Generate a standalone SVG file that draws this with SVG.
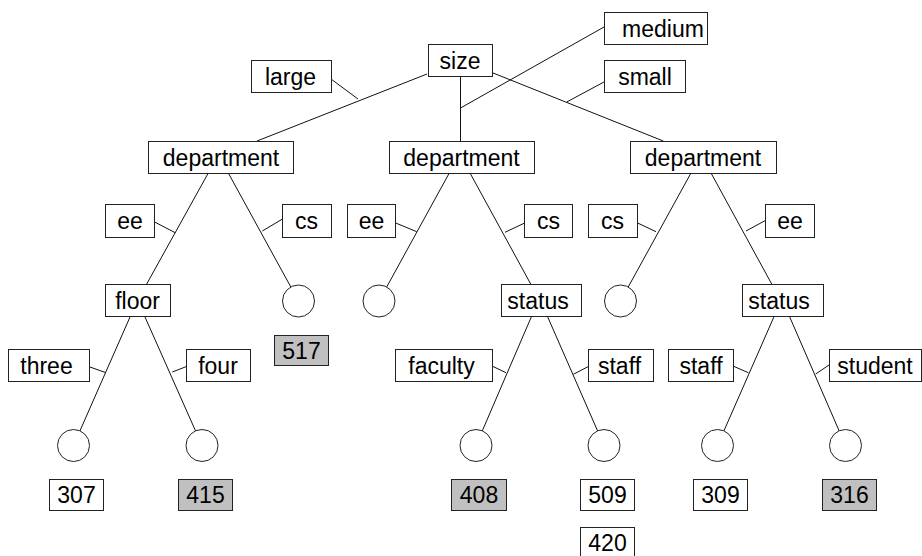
<svg xmlns="http://www.w3.org/2000/svg" width="922" height="556" viewBox="0 0 922 556">
<style>
rect{fill:#fff;stroke:#222;stroke-width:1}
rect.g{fill:#c0c0c0}
circle{fill:#fff;stroke:#222;stroke-width:1}
line{stroke:#111;stroke-width:1}
text{font-family:"Liberation Sans",Arial,sans-serif;font-size:23px;fill:#000;text-anchor:middle}
</style>
<rect x="0" y="0" width="922" height="556" style="fill:#fff;stroke:none"/>
<g id="connectors">
<line x1="427" y1="74" x2="257" y2="141"/>
<line x1="460.5" y1="76" x2="460.5" y2="141"/>
<line x1="492.3" y1="72.7" x2="663.3" y2="141"/>
<line x1="208.3" y1="173" x2="146.7" y2="284"/>
<line x1="228.3" y1="173" x2="298.5" y2="301"/>
<line x1="449.3" y1="173" x2="379" y2="301"/>
<line x1="470" y1="173" x2="530.7" y2="284"/>
<line x1="691" y1="173" x2="620.5" y2="301"/>
<line x1="711" y1="173" x2="771.7" y2="284"/>
<line x1="130" y1="317" x2="73.5" y2="445.5"/>
<line x1="145" y1="317" x2="202" y2="445.5"/>
<line x1="531.7" y1="316" x2="476" y2="445.5"/>
<line x1="547.3" y1="316" x2="604" y2="445.5"/>
<line x1="774.3" y1="316" x2="717.5" y2="445.5"/>
<line x1="789.3" y1="316" x2="845.5" y2="445.5"/>
<line x1="331" y1="79" x2="358" y2="99"/>
<line x1="604" y1="27" x2="460.5" y2="108"/>
<line x1="604" y1="82" x2="566.7" y2="102"/>
<line x1="154" y1="221.7" x2="175.2" y2="232.7"/>
<line x1="282" y1="219.3" x2="262.3" y2="231"/>
<line x1="395" y1="222.7" x2="416.7" y2="231.7"/>
<line x1="524" y1="223.3" x2="505" y2="232.3"/>
<line x1="637" y1="222.7" x2="656" y2="231.7"/>
<line x1="765" y1="220.7" x2="746" y2="231"/>
<line x1="89" y1="366.7" x2="106" y2="372.7"/>
<line x1="186" y1="366.7" x2="172.3" y2="372"/>
<line x1="492" y1="366" x2="506" y2="372.7"/>
<line x1="588" y1="366.7" x2="573.3" y2="374.3"/>
<line x1="733" y1="366" x2="748.3" y2="372.7"/>
<line x1="829" y1="365" x2="815.7" y2="374"/>
</g>
<g id="size"><rect x="428.5" y="44.5" width="64" height="32"/><text x="460" y="68.5">size</text></g>
<g id="medium"><rect x="604.5" y="12.5" width="103" height="32"/><text x="663" y="36.5">medium</text></g>
<g id="large"><rect x="251.5" y="60.5" width="80" height="32"/><text x="290.5" y="84.5">large</text></g>
<g id="small"><rect x="604.5" y="60.5" width="81" height="32"/><text x="645" y="84.5">small</text></g>
<g id="dept1"><rect x="148.5" y="141.5" width="145" height="32"/><text x="221" y="165.5">department</text></g>
<g id="dept2"><rect x="389.5" y="141.5" width="145" height="32"/><text x="461.5" y="165.5">department</text></g>
<g id="dept3"><rect x="630.5" y="141.5" width="146" height="32"/><text x="703" y="165.5">department</text></g>
<g id="ee1"><rect x="105.5" y="204.5" width="49" height="33"/><text x="130" y="229">ee</text></g>
<g id="cs1"><rect x="282.5" y="204.5" width="49" height="33"/><text x="306.5" y="229">cs</text></g>
<g id="ee2"><rect x="347.5" y="204.5" width="48" height="33"/><text x="371.5" y="229">ee</text></g>
<g id="cs2"><rect x="524.5" y="204.5" width="48" height="33"/><text x="548.5" y="229">cs</text></g>
<g id="cs3"><rect x="588.5" y="204.5" width="49" height="33"/><text x="612.5" y="229">cs</text></g>
<g id="ee3"><rect x="765.5" y="204.5" width="49" height="33"/><text x="790" y="229">ee</text></g>
<g id="floor"><rect x="105.5" y="284.5" width="65" height="32"/><text x="137.5" y="309">floor</text></g>
<g id="leaf517"><circle cx="298.5" cy="301" r="16"/></g>
<g id="leafL2"><circle cx="379" cy="301" r="16"/></g>
<g id="status2"><rect x="501.5" y="284.5" width="80" height="32"/><text x="538" y="308.5">status</text></g>
<g id="leafL3"><circle cx="620.5" cy="301" r="16"/></g>
<g id="status3"><rect x="742.5" y="284.5" width="81" height="32"/><text x="779" y="308.5">status</text></g>
<g id="v517"><rect class="g" x="274.5" y="335.5" width="54" height="30"/><text x="301.5" y="358.5">517</text></g>
<g id="three"><rect x="8.5" y="349.5" width="81" height="32"/><text x="46.5" y="373.5">three</text></g>
<g id="four"><rect x="186.5" y="349.5" width="64" height="32"/><text x="218" y="373.5">four</text></g>
<g id="faculty"><rect x="395.5" y="349.5" width="97" height="32"/><text x="441.5" y="373.5">faculty</text></g>
<g id="staff2"><rect x="588.5" y="349.5" width="65" height="32"/><text x="619.5" y="373.5">staff</text></g>
<g id="staff3"><rect x="668.5" y="349.5" width="65" height="32"/><text x="701" y="373.5">staff</text></g>
<g id="student"><rect x="829.5" y="349.5" width="92" height="32"/><text x="875" y="373.5">student</text></g>
<g id="leafA"><circle cx="73.5" cy="445.5" r="16"/></g>
<g id="leafB"><circle cx="202" cy="445.5" r="16"/></g>
<g id="leafC"><circle cx="476" cy="445.5" r="16"/></g>
<g id="leafD"><circle cx="604" cy="445.5" r="16"/></g>
<g id="leafE"><circle cx="717.5" cy="445.5" r="16"/></g>
<g id="leafF"><circle cx="845.5" cy="445.5" r="16"/></g>
<g id="v307"><rect x="49.5" y="479.5" width="54" height="31"/><text x="76.5" y="503">307</text></g>
<g id="v415"><rect class="g" x="178.5" y="479.5" width="54" height="31"/><text x="205.5" y="503">415</text></g>
<g id="v408"><rect class="g" x="451.5" y="479.5" width="55" height="31"/><text x="479" y="503">408</text></g>
<g id="v509"><rect x="580.5" y="479.5" width="54" height="31"/><text x="607.5" y="503">509</text></g>
<g id="v420"><rect x="580.5" y="527.5" width="54" height="31"/><text x="607.5" y="551">420</text></g>
<g id="v309"><rect x="693.5" y="479.5" width="54" height="31"/><text x="720.5" y="503">309</text></g>
<g id="v316"><rect class="g" x="822.5" y="479.5" width="54" height="31"/><text x="849.5" y="503">316</text></g>
</svg>
